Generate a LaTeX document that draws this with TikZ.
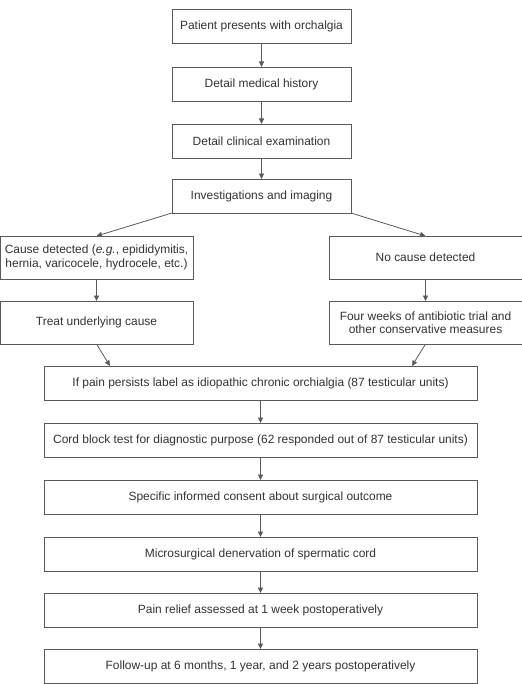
\documentclass[tikz,border=0pt]{standalone}
\usepackage{fontspec}
\setmainfont{Liberation Sans}
\usetikzlibrary{arrows.meta,positioning}
\definecolor{cLine}{HTML}{5A5A5A}
\definecolor{cText}{HTML}{333333}
\tikzset{
  box/.style  ={draw=cLine,fill=white,line width=0.8bp,align=center,inner sep=2bp,
                text=cText,font=\fontsize{12}{13.5}\selectfont,anchor=north west},
  topbox/.style  ={box,minimum width=179bp,minimum height=34bp},
  sidebox/.style ={box,minimum width=193bp,minimum height=43bp},
  mainbox/.style ={box,minimum width=433bp,minimum height=34bp},
  flow/.style ={-{Triangle[length=5.5bp,width=5bp]},draw=cLine,line width=0.8bp},
}
\begin{document}
\begin{tikzpicture}[x=1bp,y=1bp,every node/.style={outer sep=0pt}]
\useasboundingbox (0,0) rectangle (522,-684);

% ---- top column ---------------------------------------------------------
\node[topbox] (pres) at (172,-9)   {Patient presents with orchalgia};
\node[topbox] (hist) at (172,-67)  {Detail medical history};
\node[topbox] (exam) at (172,-124) {Detail clinical examination};
\node[topbox] (inv)  at (172,-179) {Investigations and imaging};

% ---- two branches -------------------------------------------------------
\node[sidebox] (cause) at (0,-236)   {Cause detected (\textit{e.g.}, epididymitis,\\hernia, varicocele, hydrocele, etc.)};
\node[sidebox] (treat) at (0,-301)   {Treat underlying cause};
\node[sidebox] (none)  at (329,-236) {No cause detected};
\node[sidebox] (abx)   at (329,-301) {Four weeks of antibiotic trial and\\other conservative measures};

% ---- main column --------------------------------------------------------
\node[mainbox] (idio)    at (44,-366) {If pain persists label as idiopathic chronic orchialgia (87 testicular units)};
\node[mainbox] (block)   at (44,-423) {Cord block test for diagnostic purpose (62 responded out of 87 testicular units)};
\node[mainbox] (consent) at (44,-480) {Specific informed consent about surgical outcome};
\node[mainbox] (denerv)  at (44,-537) {Microsurgical denervation of spermatic cord};
\node[mainbox] (relief)  at (44,-593) {Pain relief assessed at 1 week postoperatively};
\node[mainbox] (follow)  at (44,-649) {Follow-up at 6 months, 1 year, and 2 years postoperatively};

\coordinate (inL) at (110,-366);
\coordinate (inR) at (412,-366);

% ---- connectors ---------------------------------------------------------
\foreach \a/\b in {pres/hist,hist/exam,exam/inv,cause/treat,none/abx,
                   idio/block,block/consent,consent/denerv,denerv/relief,relief/follow}
  {\draw[flow] (\a.south) -- (\b.north);}
\draw[flow] (inv.south west) -- (cause.north);
\draw[flow] (inv.south east) -- (none.north);
\draw[flow] (treat.south) -- (inL);
\draw[flow] (abx.south) -- (inR);
\end{tikzpicture}
\end{document}
